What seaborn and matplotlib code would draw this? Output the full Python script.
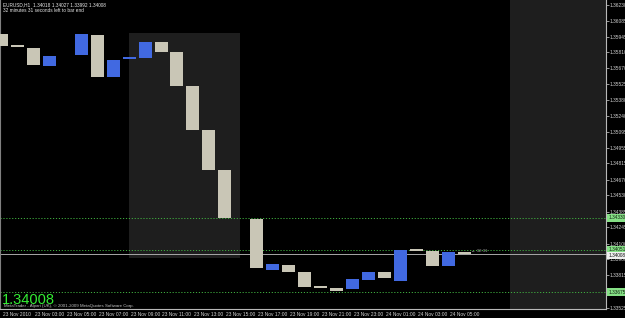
import numpy as np
import pandas as pd
import matplotlib
matplotlib.use("Agg")
import matplotlib.pyplot as plt
import matplotlib.transforms as mtransforms
from matplotlib.patches import Rectangle
import seaborn as sns

# ---------------- data ----------------
symbol_header = "EURUSD,H1  1.34018 1.34027 1.33992 1.34008"
timer_header = "32 minutes 31 seconds left to bar end"
copyright_text = "MetaTrader - Alpari (UK), \u00a9 2001-2009 MetaQuotes Software Corp."
bid_text = "1.34008"
bar_timer = "32:31"

bars = list(range(30))
opens = [1.35971, 1.35856, 1.35846, 1.35685, np.nan, 1.35784, 1.35962, 1.35587,
         1.35747, 1.35757, 1.35900, 1.35810, 1.35507, 1.35114, 1.34757, np.nan,
         1.34319, 1.33864, 1.33908, 1.33846, 1.33704, 1.33703, 1.33694, 1.33774,
         1.33846, 1.33765, 1.34042, 1.34033, 1.33899, 1.34018]
closes = [1.35864, 1.35855, 1.35694, 1.35775, np.nan, 1.35971, 1.35587, 1.35739,
          1.35749, 1.35900, 1.35810, 1.35507, 1.35114, 1.34757, 1.34328, np.nan,
          1.33881, 1.33917, 1.33846, 1.33712, 1.33703, 1.33676, 1.33783, 1.33846,
          1.33792, 1.34042, 1.34033, 1.33899, 1.34024, 1.34008]

time_tick_bars = [0, 2, 4, 6, 8, 10, 12, 14, 16, 18, 20, 22, 24, 26, 28]
time_tick_labels = ["23 Nov 2010", "23 Nov 03:00", "23 Nov 05:00", "23 Nov 07:00",
                    "23 Nov 09:00", "23 Nov 11:00", "23 Nov 13:00", "23 Nov 15:00",
                    "23 Nov 17:00", "23 Nov 19:00", "23 Nov 21:00", "23 Nov 23:00",
                    "24 Nov 01:00", "24 Nov 03:00", "24 Nov 05:00"]
price_ticks = [1.36230, 1.36085, 1.35945, 1.35810, 1.35670, 1.35525, 1.35380,
               1.35240, 1.35095, 1.34955, 1.34815, 1.34670, 1.34530, 1.34385,
               1.34245, 1.34100, 1.33960, 1.33815, 1.33675, 1.33525]
level_prices = [1.34328, 1.34045, 1.33667]
level_labels = ["1.34330", "1.34051", "1.33675"]
bid_price = 1.34008

zone_bars = (8.0, 14.95)
zone_prices = (1.33971, 1.35980)
future_zone_start = 31.88

# ---------------- style ----------------
sns.set_theme(style="dark", rc={
    "axes.facecolor": "black", "figure.facecolor": "black",
    "axes.edgecolor": "#b0b0b0", "text.color": "#d8d8d8",
    "xtick.color": "#b0b0b0", "ytick.color": "#b0b0b0",
    "axes.grid": False,
})
plt.rcParams["font.family"] = ["Liberation Sans", "DejaVu Sans"]

W, H = 625, 318
fig = plt.figure(figsize=(W / 100, H / 100), dpi=100, facecolor="black")
ax = fig.add_axes([0, 9 / H, 606 / W, 309 / H])
ax.set_facecolor("black")

px_per_bar = 15.95
min_body = 0.00018

df = pd.DataFrame({"bar": bars, "open": opens, "close": closes}).dropna()
df["low"] = np.minimum(df["open"], df["close"])
df["body"] = np.maximum((df["close"] - df["open"]).abs(), min_body)
df["bull"] = df["close"] > df["open"]

# shaded zones (behind candles)
ax.add_patch(Rectangle((zone_bars[0], zone_prices[0]), zone_bars[1] - zone_bars[0],
                       zone_prices[1] - zone_prices[0], facecolor="#1e1e1e",
                       edgecolor="none", zorder=0))
ax.axvspan(future_zone_start, 50, color="#1e1e1e", zorder=0, lw=0)

for flag, col in [(True, "#4169e1"), (False, "#c9c6b6")]:
    sub = df[df["bull"] == flag].sort_values("bar")
    sns.barplot(data=sub, x="bar", y="body", order=bars, bottom=sub["low"].values,
                color=col, saturation=1, width=13 / px_per_bar, errorbar=None,
                linewidth=0, ax=ax, zorder=3)

# level lines
for lp in level_prices:
    ax.axhline(lp, color="#3fae3f", lw=0.7, ls=(0, (1.2, 1.8)), zorder=2)
ax.axhline(bid_price, color="#a8a8a8", lw=0.7, zorder=2)

ax.set_xlim(-1.5 / px_per_bar, (606 - 1.5) / px_per_bar)
ax.set_ylim(1.362747 - 0.0000893 * 309, 1.362747)

ax.spines["top"].set_visible(False)
ax.spines["left"].set_color("#808080")
for s in ["bottom", "right"]:
    ax.spines[s].set_color("#b8b8b8")
for s in ax.spines.values():
    s.set_linewidth(0.8)

ax.set_xlabel("")
ax.set_ylabel("")
ax.set_xticks(time_tick_bars, time_tick_labels)
ax.yaxis.tick_right()
ax.set_yticks(price_ticks, [f"{v:.5f}" for v in price_ticks])
ax.tick_params(axis="x", length=2.0, width=0.6, pad=0.4, labelsize=3.5,
               labelcolor="#d0d0d0", direction="out")
ax.tick_params(axis="y", length=2.0, width=0.6, pad=0.8, labelsize=3.5,
               labelcolor="#d0d0d0", direction="out")
off = mtransforms.ScaledTranslation(1.5 / 100, 0, fig.dpi_scale_trans)
for lbl in ax.get_xticklabels():
    lbl.set_horizontalalignment("left")
    lbl.set_transform(lbl.get_transform() + off)

# right-axis price boxes
btrans = mtransforms.blended_transform_factory(ax.transAxes, ax.transData)
for lp, lt in zip(level_prices, level_labels):
    ax.text(1.004, lp, lt, transform=btrans, fontsize=3.4, color="#102010",
            va="center", ha="left", clip_on=False,
            bbox=dict(boxstyle="square,pad=0.25", fc="#86e086", ec="none"))
ax.text(1.004, bid_price - 0.00012, bid_text, transform=btrans, fontsize=3.4,
        color="#101010", va="center", ha="left", clip_on=False,
        bbox=dict(boxstyle="square,pad=0.2", fc="#f0f0f0", ec="none"))

# bar timer
ax.text(29.45, bid_price + 0.00003, "\u2190 " + bar_timer, fontsize=3.2,
        color="#a0a0a0", va="bottom", ha="left", zorder=5)

# header texts
fig.text(3 / W, 1 - 5 / H, symbol_header, fontsize=3.4, color="#e8e8e8", va="center")
fig.text(3 / W, 1 - 10.5 / H, timer_header, fontsize=3.4, color="#e8e8e8", va="center")

# bottom-left texts
fig.text(4 / W, 1 - 305.5 / H, copyright_text, fontsize=3.2, color="#c0c0c0",
         va="center", zorder=1)
fig.text(2 / W, 1 - 304 / H, bid_text, fontsize=10.5, color="#33ee33",
         va="baseline", zorder=5)

fig.savefig("out.png", dpi=100, facecolor="black")
